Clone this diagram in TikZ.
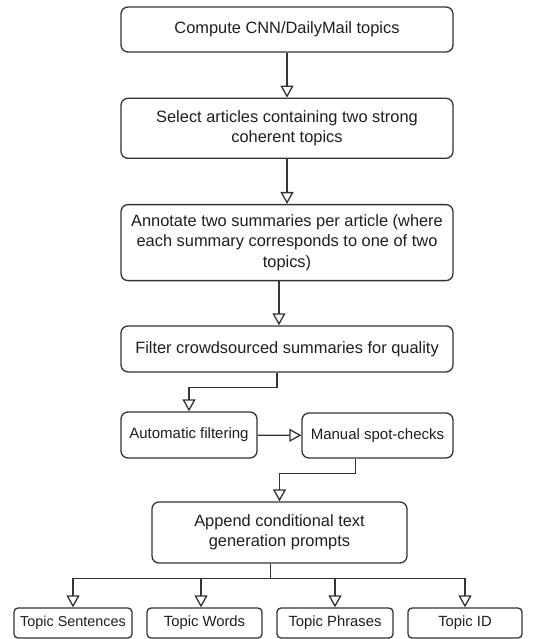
\documentclass[tikz,border=0pt]{standalone}
\usepackage{fontspec}
\setmainfont{Liberation Sans}
\usepackage{tikz}
\usetikzlibrary{arrows.meta, positioning}
\definecolor{LineGray}{HTML}{333333}
\definecolor{TextGray}{HTML}{1F1F1F}
\tikzset{
  stepbox/.style={rectangle, rounded corners=7pt, draw=LineGray, line width=1.3pt, fill=white, text=TextGray, minimum width=332pt, font=\fontsize{16.4}{20.5}\selectfont, align=center, inner sep=0pt},
  smallbox/.style={rectangle, rounded corners=7pt, draw=LineGray, line width=1.3pt, fill=white, text=TextGray, minimum height=46pt, font=\fontsize{15}{20}\selectfont, align=center, inner sep=0pt},
  leafbox/.style={rectangle, rounded corners=4pt, draw=LineGray, line width=1.3pt, fill=white, text=TextGray, minimum height=30pt, font=\fontsize{14.8}{18}\selectfont, align=center, inner sep=0pt},
  arrow/.style={-{Triangle[open, length=12pt, width=13pt]}, line width=1.3pt, LineGray}
}
\begin{document}
\begin{tikzpicture}
  \useasboundingbox (0,0) rectangle (541pt,-639pt);

  \node[stepbox, minimum height=45pt] (compute) at (287pt,-29.5pt) {Compute CNN/DailyMail topics};
  \node[stepbox, minimum height=60pt, below=45pt of compute] (select) {Select articles containing two strong\\coherent topics};
  \node[stepbox, minimum height=76pt, below=45pt of select] (annotate) {Annotate two summaries per article (where\\each summary corresponds to one of two\\topics)};
  \node[stepbox, minimum height=46pt, below=44pt of annotate] (filter) {Filter crowdsourced summaries for quality};

  \node[smallbox, minimum width=136pt] (auto) at (189pt,-435pt) {Automatic filtering};
  \node[smallbox, minimum width=151pt, minimum height=45pt] (manual) at (377.5pt,-435.5pt) {Manual spot-checks};
  \node[stepbox, minimum width=255pt, minimum height=61pt] (append) at (279.5pt,-532.5pt) {Append conditional text\\generation prompts};

  \node[leafbox, minimum width=118pt, font=\fontsize{14.4}{18}\selectfont] (sentences) at (73pt,-623pt) {Topic Sentences};
  \node[leafbox, minimum width=115pt] (words) at (204.5pt,-623pt) {Topic Words};
  \node[leafbox, minimum width=116pt] (phrases) at (335pt,-623pt) {Topic Phrases};
  \node[leafbox, minimum width=114pt] (topicid) at (465pt,-623pt) {Topic ID};

  \draw[arrow] (compute) -- (select);
  \draw[arrow] (select) -- (annotate);
  \draw[arrow] ([xshift=-8pt]annotate.south) -- ([xshift=-8pt]filter.north);
  \draw[arrow] ([xshift=-10pt]filter.south) -- ++(0,-15pt) -| (auto.north);
  \draw[arrow] (auto) -- (manual);
  \draw[arrow] ([xshift=-22pt]manual.south) -- ++(0,-15pt) -| (append.north);

  \draw[line width=1.3pt, LineGray] ([xshift=-9pt]append.south) -- ++(0,-15pt) coordinate (split);
  \draw[arrow] (split) -| (sentences.north);
  \draw[arrow] (split) -| ([xshift=-3.5pt]words.north);
  \draw[arrow] (split) -| (phrases.north);
  \draw[arrow] (split) -| (topicid.north);
\end{tikzpicture}
\end{document}
